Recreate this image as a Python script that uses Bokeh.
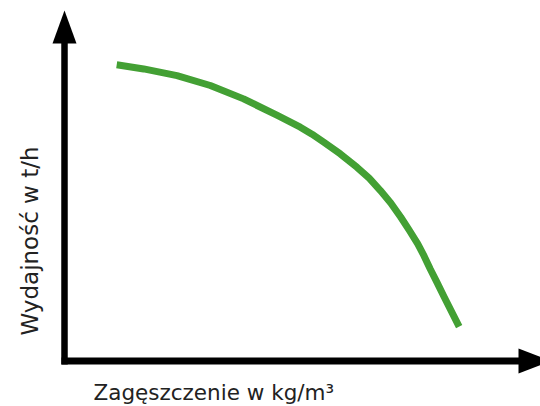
import math
from bokeh.plotting import figure
from bokeh.models import Range1d, Label
from bokeh.embed import file_html
from bokeh.resources import INLINE

# Data (arbitrary units)
density = [1.16, 1.76, 2.50, 3.24, 3.98, 4.73, 5.24, 5.50, 5.76, 6.13, 6.50, 6.77, 7.02,
           7.25, 7.47, 7.66, 7.85, 7.99, 8.13, 8.28, 8.44, 8.77]
throughput = [9.30, 9.17, 8.96, 8.65, 8.23, 7.71, 7.34, 7.12, 6.87, 6.50, 6.08, 5.74, 5.35,
              4.96, 4.52, 4.11, 3.68, 3.30, 2.88, 2.46, 2.00, 1.08]

x_label = "Zagęszczenie w kg/m³"
y_label = "Wydajność w t/h"

W, H = 540, 406
PX_X, PX_Y = 45.0, 31.85     # pixels per data unit
OX, OY = 64.0, 360.5         # origin within canvas (from left, from top)

x_start = -OX / PX_X
x_end = x_start + W / PX_X
y_end = OY / PX_Y
y_start = y_end - H / PX_Y

p = figure(width=W, height=H, output_backend="svg", toolbar_location=None,
           x_axis_type=None, y_axis_type=None, min_border=0,
           x_range=Range1d(x_start, x_end), y_range=Range1d(y_start, y_end))
p.outline_line_color = None
p.grid.visible = False
p.background_fill_color = "white"
p.border_fill_color = "white"

AXIS_W = 6.5
hx0 = -3.0 / PX_X
hy0 = -3.5 / PX_Y
y_tip = (OY - 10.0) / PX_Y
y_head_base = y_tip - 33.0 / PX_Y
x_tip = (551.0 - OX) / PX_X
x_head_base = x_tip - 33.0 / PX_X

p.line([0, 0], [hy0, y_head_base + 0.05], line_color="black", line_width=AXIS_W)
p.line([hx0, x_head_base + 0.05], [0, 0], line_color="black", line_width=AXIS_W + 0.5)
hw_v = 12.0 / PX_X
p.patch([-hw_v, 0, hw_v], [y_head_base, y_tip, y_head_base], color="black", line_width=0)
hw_h = 12.5 / PX_Y
p.patch([x_head_base, x_tip, x_head_base], [-hw_h, 0, hw_h], color="black", line_width=0)

# curve
p.line(density, throughput, line_color="#43a034", line_width=7,
       line_cap="butt", line_join="round")

# labels
p.add_layout(Label(x=(93 - OX) / PX_X, y=(OY - 391.5) / PX_Y, text=x_label,
                   text_font="DejaVu Sans", text_font_size="21.5px",
                   text_color="#222222", text_baseline="alphabetic", text_align="left"))
p.add_layout(Label(x=(29.5 - OX) / PX_X, y=(OY - 335) / PX_Y, text=y_label,
                   angle=math.pi / 2, text_font="DejaVu Sans", text_font_size="23px",
                   text_color="#222222", text_baseline="alphabetic", text_align="left"))

open("out.html", "w").write(file_html(p, INLINE))
